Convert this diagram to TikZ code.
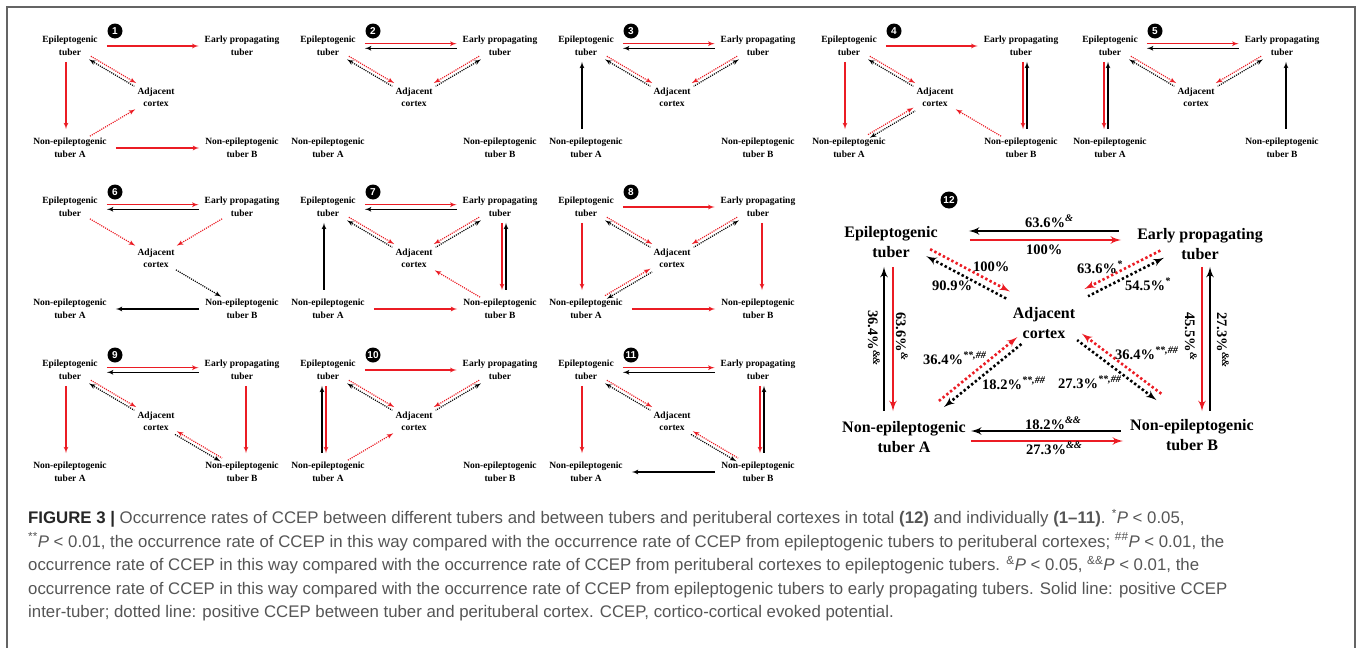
\documentclass[tikz,border=0pt]{standalone}
\usepackage{fontspec}
\setmainfont{Liberation Serif}
\setsansfont{Liberation Sans}
\usetikzlibrary{arrows,calc}

\definecolor{ccred}{RGB}{235,28,36}
\definecolor{capgray}{RGB}{85,85,85}
\definecolor{framegray}{RGB}{100,100,100}

\tikzstyle{tub} = [font=\fontsize{9.5}{12.5}\selectfont\bfseries, align=center, inner sep=1pt]
\tikzstyle{bigtub} = [font=\fontsize{16}{20}\selectfont\bfseries, align=center, inner sep=2pt]
\tikzstyle{pct} = [font=\fontsize{14.5}{14.5}\selectfont\bfseries, inner sep=0pt]
\tikzstyle{badge} = [circle, fill=black, text=white, inner sep=0pt, minimum size=15pt,
    font=\fontsize{10}{10}\selectfont\sffamily\bfseries]
\tikzstyle{rline} = [draw=ccred, line width=1.2pt, -latex', shorten <=2pt, shorten >=3pt]
\tikzstyle{bline} = [rline, draw=black]
\tikzstyle{rdot} = [rline, dash pattern=on 1.1pt off 1.1pt]
\tikzstyle{bdot} = [bline, dash pattern=on 1.1pt off 1.1pt]
\tikzstyle{rbig} = [draw=ccred, line width=2.6pt, -latex']
\tikzstyle{bbig} = [rbig, draw=black]
\tikzstyle{rbigdot} = [rbig, dash pattern=on 2.4pt off 2.4pt]
\tikzstyle{bbigdot} = [bbig, dash pattern=on 2.4pt off 2.4pt]
% offsets of the parallel arrows
\tikzstyle{hor} = [shorten <=8pt, shorten >=5pt]
\tikzstyle{ver} = [shorten <=5pt, shorten >=8pt]
\tikzstyle{pairhi} = [transform canvas={yshift=2.3pt}]
\tikzstyle{pairlo} = [transform canvas={yshift=-2.3pt}]
\tikzstyle{pairne} = [transform canvas={xshift=0.9pt,yshift=1.6pt}]
\tikzstyle{pairsw} = [transform canvas={xshift=-0.9pt,yshift=-1.6pt}]
\tikzstyle{pairnw} = [transform canvas={xshift=-0.9pt,yshift=1.6pt}]
\tikzstyle{pairse} = [transform canvas={xshift=0.9pt,yshift=-1.6pt}]
\tikzstyle{vepi} = [transform canvas={xshift=-4pt}]
\tikzstyle{vepil} = [transform canvas={xshift=-6pt}]
\tikzstyle{vepir} = [transform canvas={xshift=-2pt}]
\tikzstyle{vearly} = [transform canvas={xshift=4pt}]
\tikzstyle{vearlyl} = [transform canvas={xshift=2pt}]
\tikzstyle{vearlyr} = [transform canvas={xshift=6pt}]

% one small panel: prefix, x, y, number
\newcommand{\panel}[4]{%
    \node [tub] (#1epi) at (#2+70,#3+46) {Epileptogenic\\tuber};
    \node [tub, right of=#1epi, node distance=172pt] (#1early) {Early propagating\\tuber};
    \node [tub, below of=#1epi, node distance=102pt] (#1nona) {Non-epileptogenic\\tuber A};
    \node [tub, right of=#1nona, node distance=172pt] (#1nonb) {Non-epileptogenic\\tuber B};
    \node [tub] (#1adj) at ($(#1epi)!0.5!(#1nonb)$) {Adjacent\\cortex};
    \node [badge] (#1num) at (#2+115,#3+31) {#4};
}

\begin{document}
\begin{tikzpicture}[x=1pt, y=-1pt]
    \useasboundingbox (0,0) rectangle (1358,648);
    \draw [framegray, line width=1.5pt] (7,648) -- (7,7) -- (1355,7) -- (1355,648);

    % Place panels
    \panel{p1}{0}{0}{1}
    \panel{p2}{258}{0}{2}
    \panel{p3}{516}{0}{3}
    \panel{p4}{779}{0}{4}
    \panel{p5}{1040}{0}{5}
    \panel{p6}{0}{161}{6}
    \panel{p7}{258}{161}{7}
    \panel{p8}{516}{161}{8}
    \panel{p9}{0}{324}{9}
    \panel{p10}{258}{324}{10}
    \panel{p11}{516}{324}{11}

    % Draw edges 1
    \path [rline, hor] (p1epi) -- (p1early);
    \path [rline, ver, vepi] (p1epi) -- (p1nona);
    \path [rdot, pairne] (p1epi) -- (p1adj);
    \path [bdot, pairsw, latex'-] (p1epi) -- (p1adj);
    \path [rdot] (p1nona) -- (p1adj);
    \path [rline, hor] (p1nona) -- (p1nonb);

    % Draw edges 2
    \path [rline, hor, pairhi] (p2epi) -- (p2early);
    \path [bline, hor, pairlo, latex'-] (p2epi) -- (p2early);
    \path [rdot, pairne] (p2epi) -- (p2adj);
    \path [bdot, pairsw, latex'-] (p2epi) -- (p2adj);
    \path [rdot, pairnw] (p2early) -- (p2adj);
    \path [bdot, pairse, latex'-] (p2early) -- (p2adj);

    % Draw edges 3
    \path [rline, hor, pairhi] (p3epi) -- (p3early);
    \path [bline, hor, pairlo, latex'-] (p3epi) -- (p3early);
    \path [rdot, pairne] (p3epi) -- (p3adj);
    \path [bdot, pairsw, latex'-] (p3epi) -- (p3adj);
    \path [rdot, pairnw] (p3early) -- (p3adj);
    \path [bdot, pairse, latex'-] (p3early) -- (p3adj);
    \path [bline, ver, vepi, latex'-] (p3epi) -- (p3nona);

    % Draw edges 4
    \path [rline, hor] (p4epi) -- (p4early);
    \path [rline, ver, vepi] (p4epi) -- (p4nona);
    \path [rdot, pairne] (p4epi) -- (p4adj);
    \path [bdot, pairsw, latex'-] (p4epi) -- (p4adj);
    \path [rline, ver, vearlyl] (p4early) -- (p4nonb);
    \path [bline, ver, vearlyr, latex'-] (p4early) -- (p4nonb);
    \path [rdot, pairnw] (p4nona) -- (p4adj);
    \path [bdot, pairse, latex'-] (p4nona) -- (p4adj);
    \path [rdot] (p4nonb) -- (p4adj);

    % Draw edges 5
    \path [rline, hor, pairhi] (p5epi) -- (p5early);
    \path [bline, hor, pairlo, latex'-] (p5epi) -- (p5early);
    \path [rline, ver, vepil] (p5epi) -- (p5nona);
    \path [bline, ver, vepir, latex'-] (p5epi) -- (p5nona);
    \path [rdot, pairne] (p5epi) -- (p5adj);
    \path [bdot, pairsw, latex'-] (p5epi) -- (p5adj);
    \path [rdot, pairnw] (p5early) -- (p5adj);
    \path [bdot, pairse, latex'-] (p5early) -- (p5adj);
    \path [bline, ver, vearly, latex'-] (p5early) -- (p5nonb);

    % Draw edges 6
    \path [rline, hor, pairhi] (p6epi) -- (p6early);
    \path [bline, hor, pairlo, latex'-] (p6epi) -- (p6early);
    \path [rdot] (p6epi) -- (p6adj);
    \path [rdot] (p6early) -- (p6adj);
    \path [bdot] (p6adj) -- (p6nonb);
    \path [bline, hor, latex'-] (p6nona) -- (p6nonb);

    % Draw edges 7
    \path [rline, hor, pairhi] (p7epi) -- (p7early);
    \path [bline, hor, pairlo, latex'-] (p7epi) -- (p7early);
    \path [bline, ver, vepi, latex'-] (p7epi) -- (p7nona);
    \path [rdot, pairne] (p7epi) -- (p7adj);
    \path [bdot, pairsw, latex'-] (p7epi) -- (p7adj);
    \path [rdot, pairnw] (p7early) -- (p7adj);
    \path [bdot, pairse, latex'-] (p7early) -- (p7adj);
    \path [rline, ver, vearlyl] (p7early) -- (p7nonb);
    \path [bline, ver, vearlyr, latex'-] (p7early) -- (p7nonb);
    \path [rdot] (p7nonb) -- (p7adj);
    \path [rline, hor] (p7nona) -- (p7nonb);

    % Draw edges 8
    \path [rline, hor] (p8epi) -- (p8early);
    \path [rline, ver, vepi] (p8epi) -- (p8nona);
    \path [rdot, pairne] (p8epi) -- (p8adj);
    \path [bdot, pairsw, latex'-] (p8epi) -- (p8adj);
    \path [rdot, pairnw] (p8early) -- (p8adj);
    \path [bdot, pairse, latex'-] (p8early) -- (p8adj);
    \path [rline, ver, vearly] (p8early) -- (p8nonb);
    \path [rdot, pairnw] (p8nona) -- (p8adj);
    \path [bdot, pairse, latex'-] (p8nona) -- (p8adj);
    \path [rline, hor] (p8nona) -- (p8nonb);

    % Draw edges 9
    \path [rline, hor, pairhi] (p9epi) -- (p9early);
    \path [bline, hor, pairlo, latex'-] (p9epi) -- (p9early);
    \path [rdot, pairne] (p9epi) -- (p9adj);
    \path [bdot, pairsw, latex'-] (p9epi) -- (p9adj);
    \path [rline, ver, vepi] (p9epi) -- (p9nona);
    \path [rline, ver, vearly] (p9early) -- (p9nonb);
    \path [rdot, pairne, latex'-] (p9adj) -- (p9nonb);
    \path [bdot, pairsw] (p9adj) -- (p9nonb);

    % Draw edges 10
    \path [rline, hor] (p10epi) -- (p10early);
    \path [bline, ver, vepil, latex'-] (p10epi) -- (p10nona);
    \path [rline, ver, vepir] (p10epi) -- (p10nona);
    \path [rdot, pairne] (p10epi) -- (p10adj);
    \path [bdot, pairsw, latex'-] (p10epi) -- (p10adj);
    \path [rdot, pairnw] (p10early) -- (p10adj);
    \path [bdot, pairse, latex'-] (p10early) -- (p10adj);
    \path [rdot] (p10nona) -- (p10adj);

    % Draw edges 11
    \path [rline, hor, pairhi] (p11epi) -- (p11early);
    \path [bline, hor, pairlo, latex'-] (p11epi) -- (p11early);
    \path [rline, ver, vepi] (p11epi) -- (p11nona);
    \path [rdot, pairne] (p11epi) -- (p11adj);
    \path [bdot, pairsw, latex'-] (p11epi) -- (p11adj);
    \path [rline, ver, vearlyl] (p11early) -- (p11nonb);
    \path [bline, ver, vearlyr, latex'-] (p11early) -- (p11nonb);
    \path [rdot, pairne, latex'-] (p11adj) -- (p11nonb);
    \path [bdot, pairsw] (p11adj) -- (p11nonb);
    \path [bline, hor, latex'-] (p11nona) -- (p11nonb);

    % Panel 12
    \node [bigtub] (p12epi) at (891,242) {Epileptogenic\\tuber};
    \node [bigtub] (p12early) at (1200,244) {Early propagating\\tuber};
    \node [bigtub] (p12adj) at (1044,323) {Adjacent\\cortex};
    \node [bigtub] (p12nona) at (904,437) {Non-epileptogenic\\tuber A};
    \node [bigtub] (p12nonb) at (1192,435) {Non-epileptogenic\\tuber B};
    \node [badge, minimum size=17pt, font=\fontsize{10}{10}\selectfont\sffamily\bfseries] (p12num) at (949,200) {12};

    \path [rbig, shorten <=30pt, shorten >=14pt, transform canvas={yshift=2pt}] (p12epi.east) -- (p12epi.east -| p12early.west);
    \path [bbig, latex'-, shorten <=29pt, shorten >=16pt, transform canvas={yshift=11pt}] (p12epi.east) -- (p12epi.east -| p12early.west);
    \path [rbig, shorten <=3pt, shorten >=5pt, transform canvas={yshift=-4pt}] (p12nona.east) -- (p12nona.east -| p12nonb.west);
    \path [bbig, latex'-, shorten <=3pt, shorten >=7pt, transform canvas={yshift=6pt}] (p12nona.east) -- (p12nona.east -| p12nonb.west);
    \path [bbig, latex'-, shorten <=7pt, shorten >=8pt, transform canvas={xshift=-7pt}] (p12epi.south) -- (p12epi.south |- p12nona.north);
    \path [rbig, shorten <=7pt, shorten >=8pt, transform canvas={xshift=2pt}] (p12epi.south) -- (p12epi.south |- p12nona.north);
    \path [rbig, shorten <=5pt, shorten >=6pt, transform canvas={xshift=2pt}] (p12early.south) -- (p12early.south |- p12nonb.north);
    \path [bbig, latex'-, shorten <=5pt, shorten >=6pt, transform canvas={xshift=10pt}] (p12early.south) -- (p12early.south |- p12nonb.north);
    \path [rbigdot, shorten <=4pt, shorten >=3pt, transform canvas={xshift=1.9pt,yshift=12.5pt}] (p12epi) -- (p12adj);
    \path [bbigdot, latex'-, shorten <=4pt, shorten >=3pt, transform canvas={xshift=-1.9pt,yshift=5.5pt}] (p12epi) -- (p12adj);
    \path [rbigdot, shorten <=3pt, shorten >=10pt, transform canvas={xshift=-1.8pt,yshift=12.6pt}] (p12early) -- (p12adj);
    \path [bbigdot, latex'-, shorten <=3pt, shorten >=10pt, transform canvas={xshift=1.8pt,yshift=5.4pt}] (p12early) -- (p12adj);
    \path [rbigdot, shorten <=20pt, shorten >=3pt, transform canvas={xshift=-2.5pt,yshift=5.6pt}] (p12nona) -- (p12adj);
    \path [bbigdot, latex'-, shorten <=20pt, shorten >=3pt, transform canvas={xshift=2.5pt,yshift=-0.6pt}] (p12nona) -- (p12adj);
    \path [rbigdot, shorten <=12pt, shorten >=15pt, transform canvas={xshift=2.4pt,yshift=16.2pt}] (p12nonb) -- (p12adj);
    \path [bbigdot, latex'-, shorten <=12pt, shorten >=15pt, transform canvas={xshift=-2.4pt,yshift=9.8pt}] (p12nonb) -- (p12adj);

    % Rates
    \node [pct, anchor=base west] (r1) at (1025,227) {63.6\%\textsuperscript{\itshape\&}};
    \node [pct, anchor=base west] (r2) at (1026,254) {100\%};
    \node [pct, anchor=base west] (r3) at (973,271) {100\%};
    \node [pct, anchor=base west] (r4) at (932,290) {90.9\%};
    \node [pct, anchor=base west] (r5) at (1077,273) {63.6\%\textsuperscript{\itshape *}};
    \node [pct, anchor=base west] (r6) at (1125,290) {54.5\%\textsuperscript{\itshape *}};
    \node [pct, anchor=base west] (r7) at (923,364) {36.4\%\textsuperscript{\itshape **,\#\#}};
    \node [pct, anchor=base west] (r8) at (982,389) {18.2\%\textsuperscript{\itshape **,\#\#}};
    \node [pct, anchor=base west] (r9) at (1115,359) {36.4\%\textsuperscript{\itshape **,\#\#}};
    \node [pct, anchor=base west] (r10) at (1058,388) {27.3\%\textsuperscript{\itshape **,\#\#}};
    \node [pct, anchor=base west] (r11) at (1025,429) {18.2\%\textsuperscript{\itshape\&\&}};
    \node [pct, anchor=base west] (r12) at (1026,454) {27.3\%\textsuperscript{\itshape\&\&}};
    \node [pct, anchor=base west, rotate=-90] (r13) at (868,310) {36.4\%\textsuperscript{\itshape\&\&}};
    \node [pct, anchor=base west, rotate=-90] (r14) at (896,312) {63.6\%\textsuperscript{\itshape\&}};
    \node [pct, anchor=base west, rotate=-90] (r15) at (1185,312) {45.5\%\textsuperscript{\itshape\&}};
    \node [pct, anchor=base west, rotate=-90] (r16) at (1217,312) {27.3\%\textsuperscript{\itshape\&\&}};

    % Caption
    \node [anchor=north west, align=left, inner sep=0pt, text=capgray,
        font=\fontsize{16.8}{23.5}\selectfont\sffamily] (caption) at (28,509) {%
        {\color{black!85}\bfseries FIGURE 3 \textbar} Occurrence rates of CCEP between different tubers and between tubers and perituberal cortexes in total {\bfseries (12)} and individually {\bfseries (1–11)}. \textsuperscript{*}\textit{P} < 0.05,\\
        \textsuperscript{**}\textit{P} < 0.01, the occurrence rate of CCEP in this way compared with the occurrence rate of CCEP from epileptogenic tubers to perituberal cortexes; \textsuperscript{\#\#}\textit{P} < 0.01, the\\
        occurrence rate of CCEP in this way compared with the occurrence rate of CCEP from perituberal cortexes to epileptogenic tubers. \textsuperscript{\&}\textit{P} < 0.05, \textsuperscript{\&\&}\textit{P} < 0.01, the\\
        occurrence rate of CCEP in this way compared with the occurrence rate of CCEP from epileptogenic tubers to early propagating tubers. Solid line: positive CCEP\\
        inter-tuber; dotted line: positive CCEP between tuber and perituberal cortex. CCEP, cortico-cortical evoked potential.};
\end{tikzpicture}
\end{document}
